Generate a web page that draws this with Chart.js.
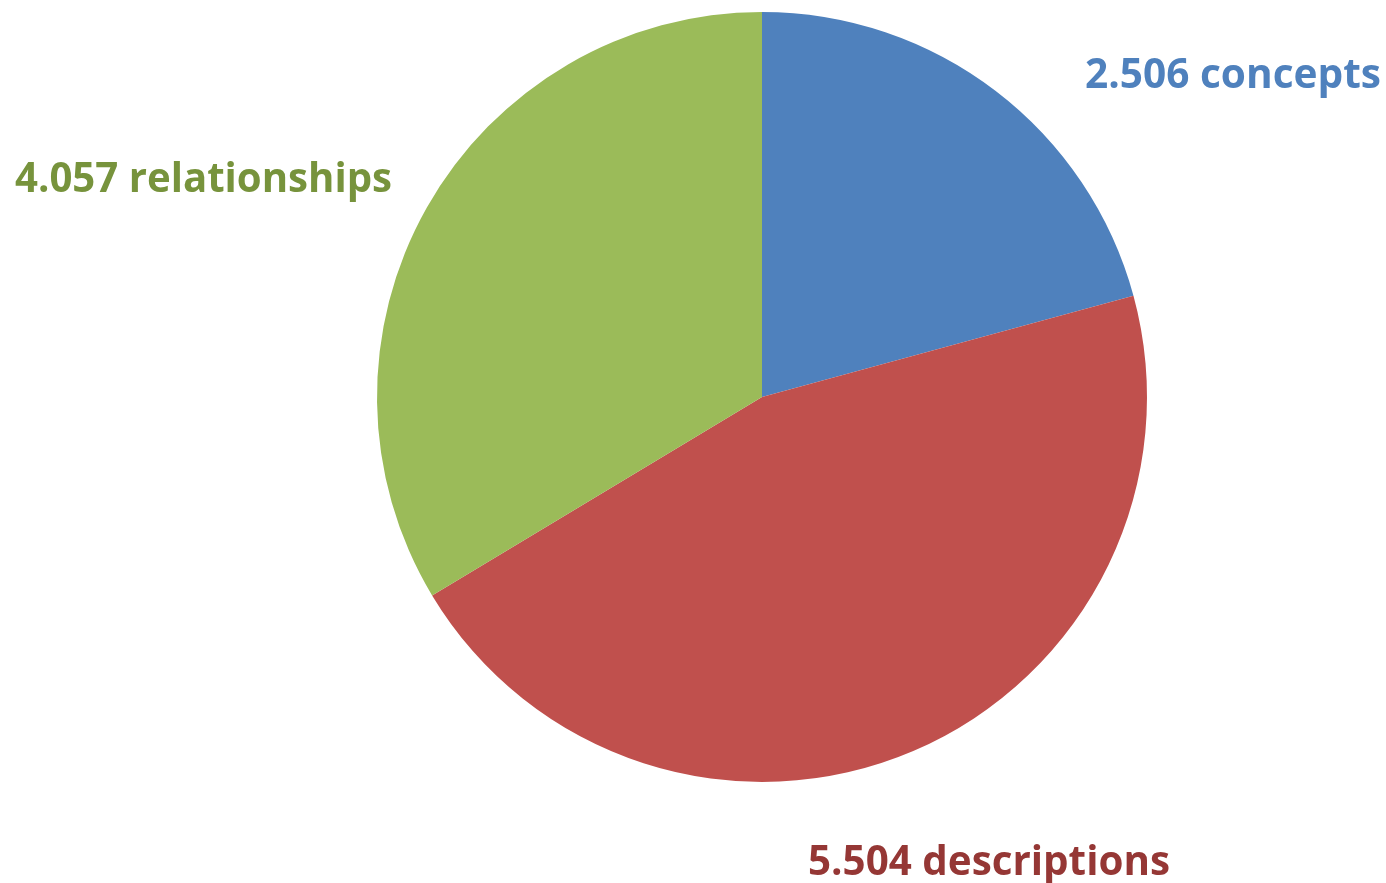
<!DOCTYPE html>
<html>
<head>
<meta charset="utf-8">
<script src="https://cdn.jsdelivr.net/npm/chart.js@4"></script>
<style>
html,body{margin:0;padding:0;background:#fff;}
#wrap{width:1386px;height:883px;}
</style>
</head>
<body>
<div id="wrap"><canvas id="c" width="1386" height="883"></canvas></div>
<script>
const categories = ["concepts", "descriptions", "relationships"];
const values = [2506, 5504, 4057];
const valueLabels = ["2.506", "5.504", "4.057"];
const sliceColors = ["#4F81BD", "#C0504D", "#9BBB59"];
const labelColors = ["#4F81BD", "#953735", "#77933C"];
// label placement (left x, baseline y, max width) in canvas pixels
const labelPos = [
  {x: 1085, y: 88, w: 296},
  {x: 808, y: 875, w: 362},
  {x: 15, y: 192, w: 377}
];

const labelPlugin = {
  id: 'outLabels',
  afterDraw(chart) {
    const ctx = chart.ctx;
    ctx.save();
    ctx.font = 'bold 42px "Open Sans", "DejaVu Sans", sans-serif';
    ctx.textAlign = 'left';
    ctx.textBaseline = 'alphabetic';
    categories.forEach((c, i) => {
      const t = valueLabels[i] + ' ' + c;
      const p = labelPos[i];
      ctx.fillStyle = labelColors[i];
      ctx.fillText(t, p.x, p.y, p.w);
    });
    ctx.restore();
  }
};

new Chart(document.getElementById('c'), {
  type: 'pie',
  data: {
    labels: categories,
    datasets: [{
      data: values,
      backgroundColor: sliceColors,
      borderWidth: 0
    }]
  },
  options: {
    responsive: false,
    animation: false,
    layout: { padding: { top: 12, bottom: 101, left: 376, right: 238 } },
    plugins: { legend: { display: false }, tooltip: { enabled: false } }
  },
  plugins: [labelPlugin]
});
</script>
</body>
</html>
